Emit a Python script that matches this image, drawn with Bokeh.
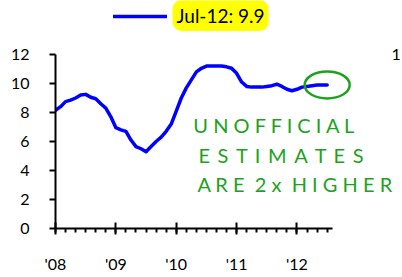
import numpy as np
from bokeh.plotting import figure
from bokeh.models import (FixedTicker, Label, Legend, LegendItem, Range1d)
from bokeh.core.properties import value
from bokeh.embed import file_html
from bokeh.resources import INLINE

# Monthly rate, Jan 2008 .. Jul 2012
rates = [8.15, 8.4, 8.75, 8.85, 9.0, 9.2, 9.25, 9.05, 8.95, 8.6, 8.3, 7.7,
         6.95, 6.8, 6.7, 6.1, 5.65, 5.5, 5.3, 5.65, 6.0, 6.3, 6.7, 7.2,
         8.1, 9.0, 9.7, 10.25, 10.8, 11.05, 11.2, 11.2, 11.2, 11.2, 11.15, 11.05,
         10.7, 10.1, 9.8, 9.75, 9.75, 9.75, 9.8, 9.85, 9.95, 9.8, 9.6, 9.5,
         9.6, 9.75, 9.8, 9.85, 9.9, 9.9, 9.9]
year_ticks = [0, 12, 24, 36, 48]
year_labels = ["'08", "'09", "'10", "'11", "'12"]
y_ticks = [0, 2, 4, 6, 8, 10, 12]
legend_text = "Jul-12: 9.9"
right_axis_top = "1"
NB = "\u00a0"
TS = "\u2009"
note_lines = ["U N O F F I C I A L",
              (" " + TS).join("ESTIMATES"),
              "A R E" + NB * 2 + "2 x" + NB * 2 + "H I G H E R"]

months = np.arange(len(rates))

FONT = "Lato"
GREEN = "#1ca21c"

# frame spans to the top/right edges so annotations are not clipped;
# the axes themselves are bounded to the data extent
p = figure(width=402, height=277, output_backend="svg", toolbar_location=None,
           x_range=Range1d(0, 68.97), y_range=Range1d(0, 15.724),
           min_border_left=55, min_border_right=0, min_border_top=0,
           min_border_bottom=49)
p.outline_line_color = None
p.grid.visible = False
p.background_fill_color = "white"
p.border_fill_color = "white"

r = p.line(months, rates, line_color="#0000ff", line_width=3.5,
           line_join="round", line_cap="round")

# axes
xa = p.xaxis[0]
xa.bounds = (0, 55)
xa.ticker = FixedTicker(ticks=year_ticks, minor_ticks=list(range(0, 56, 2)))
xa.major_label_overrides = {t: l for t, l in zip(year_ticks, year_labels)}
xa.axis_line_width = 2
xa.major_tick_line_width = 2
xa.minor_tick_line_width = 2
xa.major_tick_in = 6
xa.major_tick_out = 6
xa.minor_tick_in = 0
xa.minor_tick_out = 4
xa.major_label_standoff = 19
xa.major_label_text_font = FONT
xa.major_label_text_font_size = "16px"
xa.major_label_text_color = "black"

ya = p.yaxis[0]
ya.bounds = (0, 12)
ya.ticker = FixedTicker(ticks=y_ticks)
ya.axis_line_width = 2
ya.major_tick_line_width = 2
ya.major_tick_in = 0
ya.major_tick_out = 6
ya.minor_tick_line_color = None
ya.major_label_standoff = 20
ya.major_label_text_font = FONT
ya.major_label_text_font_size = "16px"
ya.major_label_text_color = "black"

# visible part of a secondary axis label at the right edge
p.add_layout(Label(x=66.8, y=y_ticks[-1], text=right_axis_top, text_font=FONT,
                   text_font_size="16px", text_baseline="middle",
                   text_color="black"))

# legend (sample line) + yellow value label
leg = Legend(items=[LegendItem(label=value(""), renderers=[r])],
             location=(58, 202), padding=0, margin=0, spacing=0,
             glyph_width=54, glyph_height=20, label_height=20, label_width=0,
             label_standoff=0, border_line_color=None,
             background_fill_alpha=0)
p.add_layout(leg)

p.add_layout(Label(x=23.26, y=14.69, text=legend_text, text_font=FONT,
                   text_font_size="19px", text_baseline="middle",
                   text_color="black", background_fill_color="#ffff00",
                   padding=4, border_radius=9))

# hand-drawn style annotation
p.ellipse(x=months[-1], y=rates[-1], width=45, height=27,
          width_units="screen", height_units="screen",
          fill_color=None, line_color=GREEN, line_width=2.5)

for txt, xx, yy in zip(note_lines, [27.4, 28.4, 28.2], [7.15, 5.1, 3.1]):
    p.add_layout(Label(x=xx, y=yy, text=txt, text_font=FONT,
                       text_font_size="20px", text_baseline="middle",
                       text_color=GREEN))

open("out.html", "w").write(file_html(p, INLINE))
